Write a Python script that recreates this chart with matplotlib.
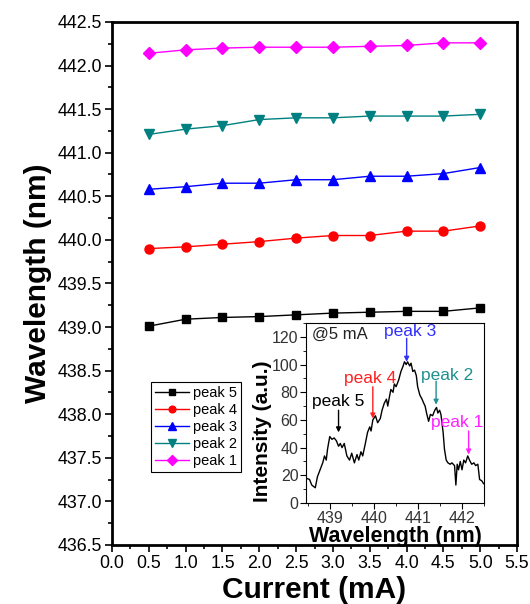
import matplotlib
matplotlib.use('Agg')
import matplotlib.pyplot as plt
from matplotlib.ticker import MultipleLocator

plt.rcParams['font.family'] = ['Liberation Sans', 'DejaVu Sans']

current = [0.5, 1.0, 1.5, 2.0, 2.5, 3.0, 3.5, 4.0, 4.5, 5.0]
peak5 = [439.01, 439.09, 439.11, 439.12, 439.14, 439.16, 439.17, 439.18, 439.18, 439.22]
peak4 = [439.90, 439.92, 439.95, 439.98, 440.02, 440.05, 440.05, 440.10, 440.10, 440.16]
peak3 = [440.58, 440.61, 440.65, 440.65, 440.69, 440.69, 440.73, 440.73, 440.76, 440.83]
peak2 = [441.21, 441.27, 441.31, 441.38, 441.40, 441.40, 441.42, 441.42, 441.42, 441.44]
peak1 = [442.14, 442.18, 442.20, 442.21, 442.21, 442.21, 442.22, 442.23, 442.26, 442.26]

# spectrum at 5 mA (inset)
wl = [438.45, 438.53, 438.58, 438.66, 438.71, 438.77, 438.83, 438.87, 438.91, 438.94,
      438.99, 439.04, 439.09, 439.14, 439.19, 439.23, 439.27, 439.32, 439.38, 439.44,
      439.49, 439.55, 439.61, 439.65, 439.70, 439.74, 439.80, 439.85, 439.90, 439.93,
      439.97, 440.03, 440.08, 440.14, 440.18, 440.23, 440.28, 440.31, 440.35, 440.38,
      440.43, 440.46, 440.50, 440.56, 440.61, 440.66, 440.69, 440.73, 440.76, 440.81,
      440.84, 440.88, 440.92, 440.96, 440.99, 441.04, 441.09, 441.13, 441.16, 441.20,
      441.24, 441.28, 441.33, 441.38, 441.42, 441.45, 441.49, 441.52, 441.57, 441.60,
      441.64, 441.68, 441.73, 441.77, 441.83, 441.86, 441.89, 441.92, 441.96, 442.00,
      442.04, 442.08, 442.13, 442.17, 442.22, 442.27, 442.31, 442.36, 442.40, 442.45,
      442.49]
inten = [18, 17, 13, 11, 19, 24, 29, 34, 31, 39,
         48, 46, 47, 45, 41, 43, 40, 43, 34, 31,
         36, 29, 35, 31, 37, 34, 43, 51, 55, 52,
         60, 63, 58, 61, 67, 72, 75, 70, 77, 82,
         80, 86, 84, 89, 95, 99, 102, 100, 102, 99,
         101, 95, 96, 92, 84, 78, 75, 72, 70, 64,
         59, 64, 63, 67, 69, 65, 67, 64, 51, 39,
         31, 29, 28, 29, 27, 13, 28, 24, 30, 24,
         31, 29, 34, 31, 28, 29, 27, 28, 17, 16,
         14]

fig = plt.figure(figsize=(5.3, 6.04), dpi=100)
ax = fig.add_axes([0.2113, 0.0977, 0.7642, 0.866])

series = [
    (peak5, 's', 'black', 'peak 5', 6),
    (peak4, 'o', '#ff0000', 'peak 4', 6.5),
    (peak3, '^', '#0000ff', 'peak 3', 7.5),
    (peak2, 'v', '#008080', 'peak 2', 7.5),
    (peak1, 'D', '#ff00ff', 'peak 1', 6.5),
]
for vals, mk, col, lab, ms in series:
    ax.plot(current, vals, marker=mk, color=col, label=lab, lw=1, ms=ms)

ax.set_xlim(0, 5.5)
ax.set_ylim(436.5, 442.5)
ax.xaxis.set_major_locator(MultipleLocator(0.5))
ax.xaxis.set_minor_locator(MultipleLocator(0.25))
ax.yaxis.set_major_locator(MultipleLocator(0.5))
ax.yaxis.set_minor_locator(MultipleLocator(0.25))
ax.yaxis.set_major_formatter(plt.FormatStrFormatter('%.1f'))
ax.xaxis.set_major_formatter(plt.FormatStrFormatter('%.1f'))
ax.tick_params(which='both', direction='out', top=False, right=False, labelsize=12.8, pad=2, width=1.2)
ax.tick_params(which='major', length=5)
ax.tick_params(which='minor', length=3)
for s in ax.spines.values():
    s.set_linewidth(2)
ax.set_xlabel('Current (mA)', fontsize=21.5, fontweight='bold', labelpad=3)
ax.set_ylabel('Wavelength (nm)', fontsize=21.5, fontweight='bold', labelpad=4)

leg = ax.legend(loc='lower left', bbox_to_anchor=(0.285, 0.2185), bbox_transform=fig.transFigure,
                borderaxespad=0, fontsize=10.5, frameon=True, fancybox=False, framealpha=1,
                edgecolor='black', handlelength=2.3, labelspacing=0.2, borderpad=0.3,
                handletextpad=0.25, markerscale=0.75)
leg.get_frame().set_linewidth(0.8)

# inset spectrum
ins = fig.add_axes([0.5774, 0.1672, 0.3358, 0.298])
ins.plot(wl, inten, color='black', lw=1)
ins.set_xlim(438.45, 442.5)
ins.set_ylim(0, 130)
ins.xaxis.set_major_locator(MultipleLocator(1))
ins.xaxis.set_minor_locator(MultipleLocator(0.5))
ins.yaxis.set_major_locator(MultipleLocator(20))
ins.yaxis.set_minor_locator(MultipleLocator(10))
ins.tick_params(which='both', direction='out', top=False, right=False, labelsize=11.5, pad=1.5,
                labelcolor='#333333')
ins.tick_params(which='major', length=4)
ins.tick_params(which='minor', length=2)
ins.set_xlabel('Wavelength (nm)', fontsize=15.5, fontweight='bold', labelpad=0)
ins.set_ylabel('Intensity (a.u.)', fontsize=15, fontweight='bold')
ins.yaxis.set_label_coords(-0.19, 0.4)
ins.text(438.58, 121.5, '@5 mA', fontsize=12, ha='left', va='center', color='#222222')

notes = [
    ('peak 5', 439.19, 73.5, 439.19, 67, 51, 'black'),
    ('peak 4', 439.90, 90, 439.97, 84, 61, '#ff2020'),
    ('peak 3', 440.81, 124, 440.74, 119, 102, '#3030ff'),
    ('peak 2', 441.66, 92, 441.41, 88, 71, '#209090'),
    ('peak 1', 441.90, 58, 442.15, 52, 35, '#ff20ff'),
]
for txt, tx, ty, axx, y0, y1, col in notes:
    ins.text(tx, ty, txt, fontsize=12.5, ha='center', va='center', color=col)
    ins.annotate('', xy=(axx, y1), xytext=(axx, y0),
                 arrowprops=dict(arrowstyle='-|>', color=col, lw=1, mutation_scale=7,
                                 shrinkA=0, shrinkB=0))

fig.savefig('out.png', dpi=100)
